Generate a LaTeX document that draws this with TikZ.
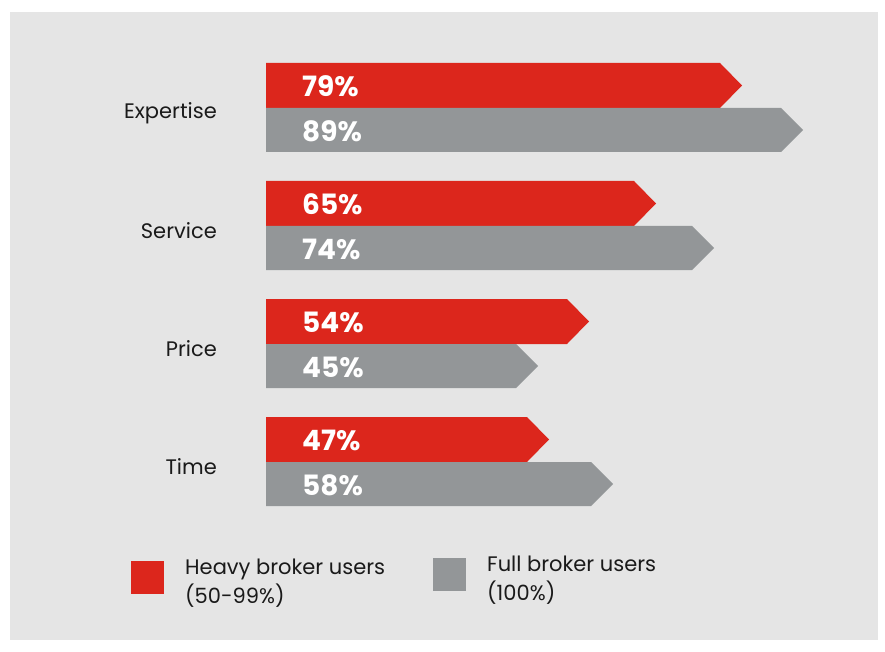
\documentclass[tikz,border=0pt]{standalone}
\usepackage{fontspec}
\setmainfont{Poppins}
\definecolor{brokerred}{HTML}{DC261C}
\definecolor{brokergray}{HTML}{939698}
\definecolor{panelgray}{HTML}{E5E5E5}
\definecolor{labelink}{HTML}{1A1A1A}
\begin{document}
\begin{tikzpicture}[x=1pt,y=-1pt,
    pct/.style={anchor=west, inner sep=0pt, text=white, font=\fontsize{28}{28}\bfseries\selectfont},
    cat/.style={anchor=east, inner sep=0pt, text=labelink, font=\fontsize{21}{21}\selectfont},
    key/.style={anchor=north west, inner sep=0pt, text=labelink, align=left, font=\fontsize{21}{29}\selectfont}]

% page and panel, in pixels of the reference
\useasboundingbox (0,0) rectangle (885,652);
\fill[panelgray] (10,12) rectangle (878,640);

\foreach \i/\lab/\rtip/\rval/\gtip/\gval in {0/Expertise/742/79/803/89,
                                             1/Service/656/65/714/74,
                                             2/Price/589/54/538/45,
                                             3/Time/549/47/613/58} {
    \pgfmathsetmacro\top{63+118*\i}   % top of red bar
    \pgfmathsetmacro\mid{\top+45}     % red meets gray
    \pgfmathsetmacro\bot{\top+89}     % bottom of gray bar
    % red arrow bar
    \fill[brokerred] (266,\top) -- (\rtip-22,\top) -- (\rtip,\top+22.5)
        -- (\rtip-22,\mid) -- (266,\mid) -- cycle;
    % gray arrow bar
    \fill[brokergray] (266,\mid) -- (\gtip-22,\mid) -- (\gtip,\mid+22)
        -- (\gtip-22,\bot) -- (266,\bot) -- cycle;
    \node[pct] (red\i) at (302,\top+23) {\rval\%};
    \node[pct] (gray\i) at (302,\mid+23) {\gval\%};
    \node[cat] (lab\i) at (217,\mid+5) {\lab};
}

% legend
\fill[brokerred] (131,561) rectangle (164,594);
\fill[brokergray] (433,558) rectangle (466,591);
\node[key] (keyred) at (185,559) {Heavy broker users\\(50-99\%)};
\node[key] (keygray) at (487,556) {Full broker users\\(100\%)};
\end{tikzpicture}
\end{document}
